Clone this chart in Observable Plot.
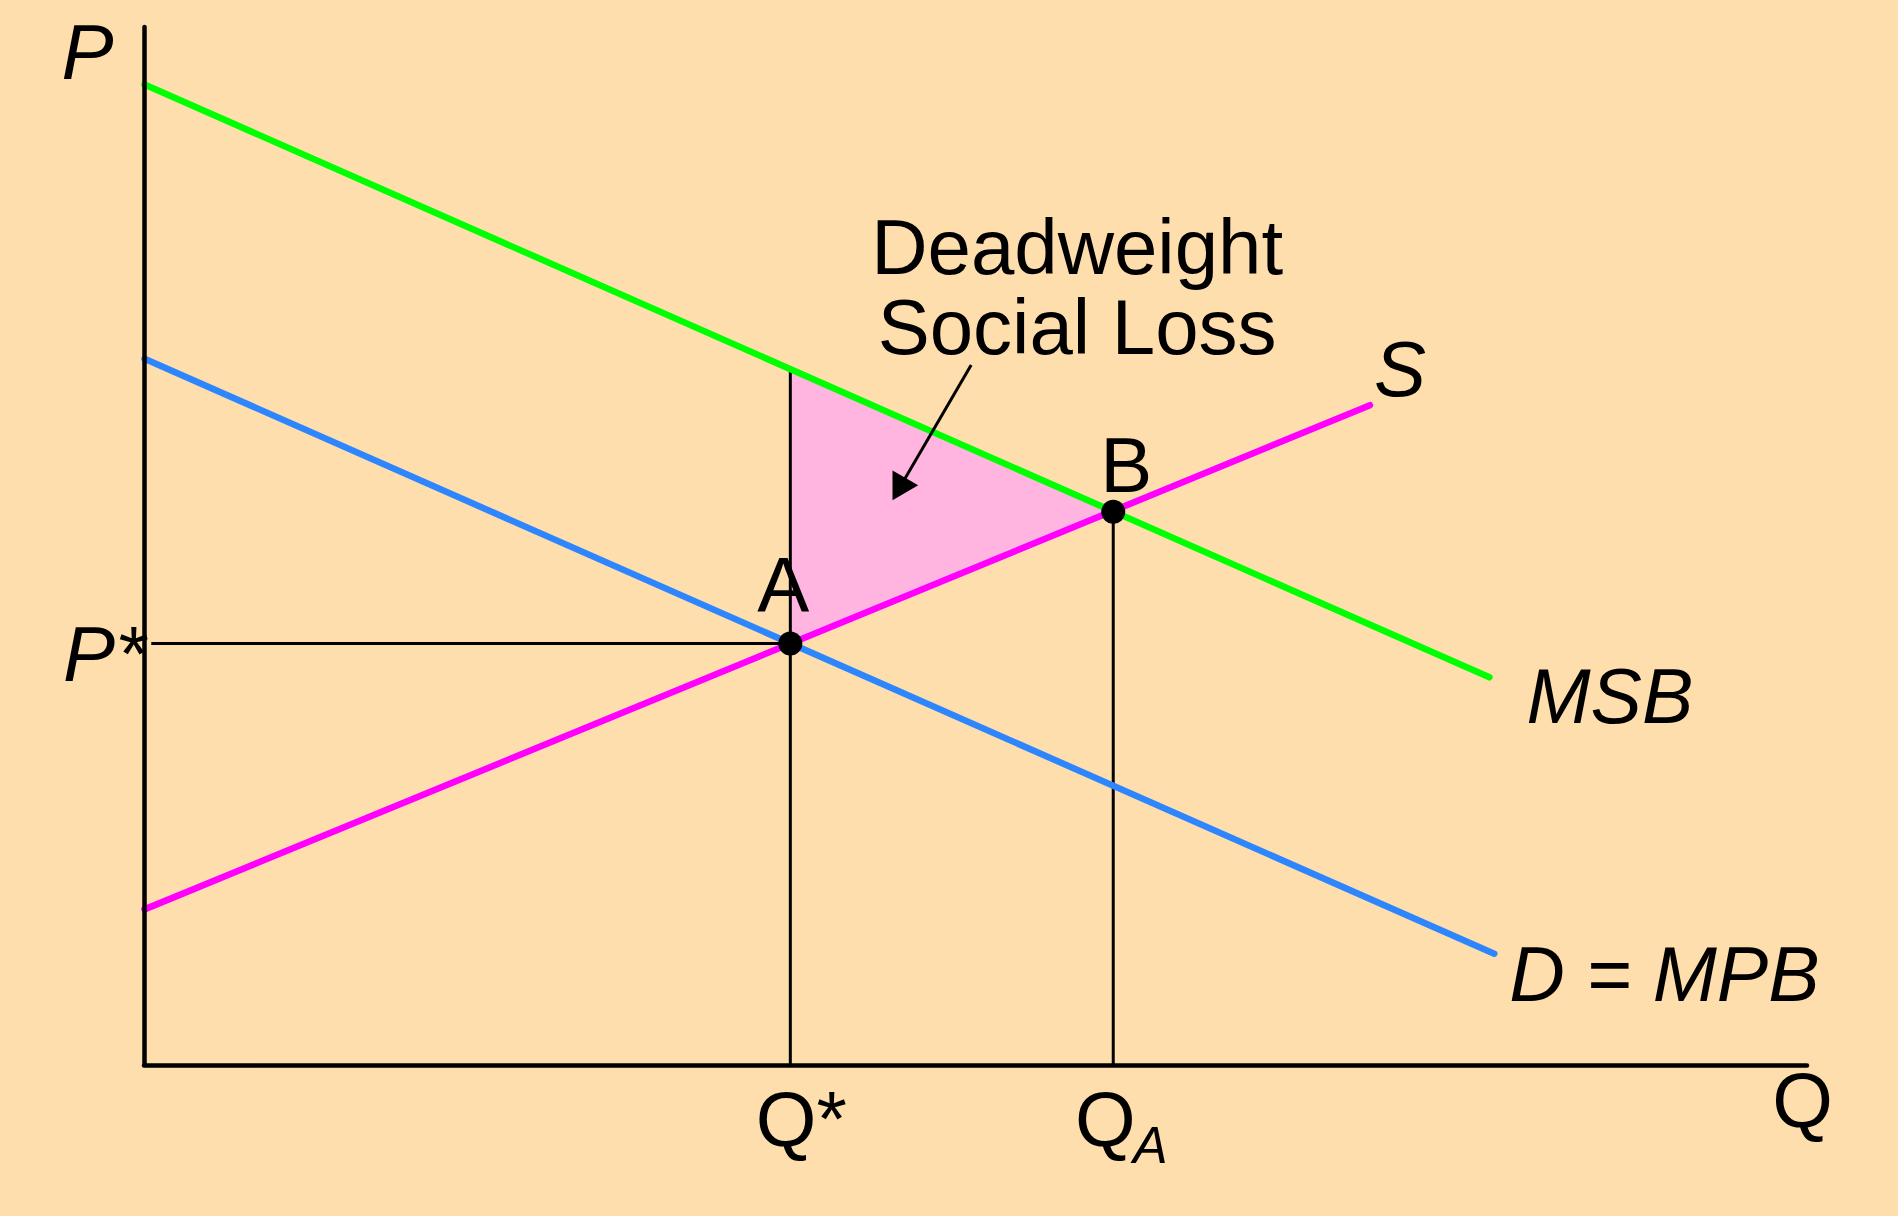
<!DOCTYPE html>
<html><head><meta charset="utf-8">
<script src="https://cdn.jsdelivr.net/npm/d3@7"></script>
<script src="https://cdn.jsdelivr.net/npm/@observablehq/plot@0.6"></script>
<style>html,body{margin:0;padding:0;background:#FFDEAD;overflow:hidden}</style>
</head><body><div id="chart"></div>
<script>
// Economic values (Q and P in arbitrary units)
const qStar = 4, qA = 6;
const pStar = 4.0, pB = 5.25, pMsbAtQStar = 6.6;
const qAxisMax = 10.3, pAxisMax = 9.84;
const msbLine = [{q: 0, p: 9.3}, {q: 8.33, p: 3.68}];
const mpbLine = [{q: 0, p: 6.7}, {q: 8.36, p: 1.06}];
const supplyLine = [{q: 0, p: 1.48}, {q: 7.59, p: 6.26}];
const lossArea = [{q: 4, s: 4.0, msb: 6.6}, {q: 6, s: 5.25, msb: 5.25}];
const pointA = {q: 4, p: 4.0, label: "A"};
const pointB = {q: 6, p: 5.25, label: "B"};
const arrowTail = {q: 5.12, p: 6.64};
const arrowHead = {q: 4.686, p: 5.50};
const axisLabels = ["P", "P*", "Q*", "Q", "A", "Q"];
const curveLabels = ["MSB", "D = MPB", "S"];
const noteText = "Deadweight\nSocial Loss";

const font = "'Liberation Sans', Arial, Helvetica, sans-serif";
const fs = 78;
const lastPt = (arr) => [arr[arr.length - 1]];

const chart = Plot.plot({
  width: 1898, height: 1216,
  marginLeft: 144, marginRight: 91, marginTop: 27, marginBottom: 151,
  x: {domain: [0, qAxisMax], axis: null},
  y: {domain: [0, pAxisMax], axis: null},
  style: {background: "#FFDEAD", fontFamily: font, color: "black"},
  marks: [
    Plot.areaY(lossArea, {x: "q", y1: "s", y2: "msb", fill: "#FFB5DF"}),
    Plot.ruleX([qStar], {y1: 0, y2: pMsbAtQStar, stroke: "black", strokeWidth: 3}),
    Plot.ruleX([qA], {y1: 0, y2: pB, stroke: "black", strokeWidth: 3}),
    Plot.ruleY([pStar], {x1: 0.045, x2: qStar, stroke: "black", strokeWidth: 3}),
    Plot.line(mpbLine, {x: "q", y: "p", stroke: "#2E86FF", strokeWidth: 6.5}),
    Plot.line(msbLine, {x: "q", y: "p", stroke: "#00FF00", strokeWidth: 6.5}),
    Plot.line(supplyLine, {x: "q", y: "p", stroke: "#FF00FF", strokeWidth: 6.5}),
    // axes
    Plot.ruleX([0], {y1: 0, y2: pAxisMax, stroke: "black", strokeWidth: 4.5, strokeLinecap: "round"}),
    Plot.ruleY([0], {x1: 0, x2: qAxisMax, stroke: "black", strokeWidth: 4.5, strokeLinecap: "round"}),
    // arrow
    Plot.link([{}], {x1: () => arrowTail.q, y1: () => arrowTail.p, x2: () => arrowHead.q, y2: () => arrowHead.p, stroke: "black", strokeWidth: 3}),
    Plot.dot([arrowHead], {x: "q", y: "p", symbol: "triangle", r: 11, rotate: 210, fill: "black", stroke: "none"}),
    // equilibrium points
    Plot.dot([pointA, pointB], {x: "q", y: "p", r: 12, fill: "black"}),
    Plot.text([pointA], {x: "q", y: "p", text: "label", fontSize: fs, lineAnchor: "bottom", textAnchor: "middle", dx: -7, dy: -32}),
    Plot.text([pointB], {x: "q", y: "p", text: "label", fontSize: fs, lineAnchor: "bottom", textAnchor: "middle", dx: 13, dy: -20}),
    // axis labels
    Plot.text([axisLabels[0]], {x: () => 0, y: () => pAxisMax, text: d => d, fontSize: fs, fontStyle: "italic", lineAnchor: "bottom", textAnchor: "middle", dx: -57, dy: 51}),
    Plot.text([axisLabels[1]], {x: () => 0, y: () => pStar, text: d => d, fontSize: fs, fontStyle: "italic", lineAnchor: "bottom", textAnchor: "end", dx: 1, dy: 37}),
    Plot.text([axisLabels[2]], {x: () => qStar, y: () => 0, text: d => d, fontSize: fs, lineAnchor: "bottom", textAnchor: "middle", dx: 11, dy: 80}),
    Plot.text([axisLabels[3]], {x: () => qA, y: () => 0, text: d => d, fontSize: fs, lineAnchor: "bottom", textAnchor: "middle", dx: -8, dy: 80}),
    Plot.text([axisLabels[4]], {x: () => qA, y: () => 0, text: d => d, fontSize: 52, fontStyle: "italic", lineAnchor: "bottom", textAnchor: "middle", dx: 37, dy: 97}),
    Plot.text([axisLabels[5]], {x: () => qAxisMax, y: () => 0, text: d => d, fontSize: fs, lineAnchor: "bottom", textAnchor: "middle", dx: -5, dy: 61}),
    // curve labels
    Plot.text(lastPt(msbLine), {x: "q", y: "p", text: () => curveLabels[0], fontSize: 77, fontStyle: "italic", lineAnchor: "bottom", textAnchor: "start", dx: 37, dy: 46}),
    Plot.text(lastPt(mpbLine), {x: "q", y: "p", text: () => curveLabels[1], fontSize: 77, fontStyle: "italic", lineAnchor: "bottom", textAnchor: "start", dx: 15, dy: 47}),
    Plot.text(lastPt(supplyLine), {x: "q", y: "p", text: () => curveLabels[2], fontSize: fs, fontStyle: "italic", lineAnchor: "bottom", textAnchor: "middle", dx: 30, dy: -9}),
    // note
    Plot.text([arrowTail], {x: "q", y: "p", text: () => noteText, fontSize: fs, lineHeight: 1.026, lineAnchor: "bottom", textAnchor: "middle", dx: 106, dy: -11})
  ]
});
document.getElementById("chart").appendChild(chart);
</script>
</body></html>
